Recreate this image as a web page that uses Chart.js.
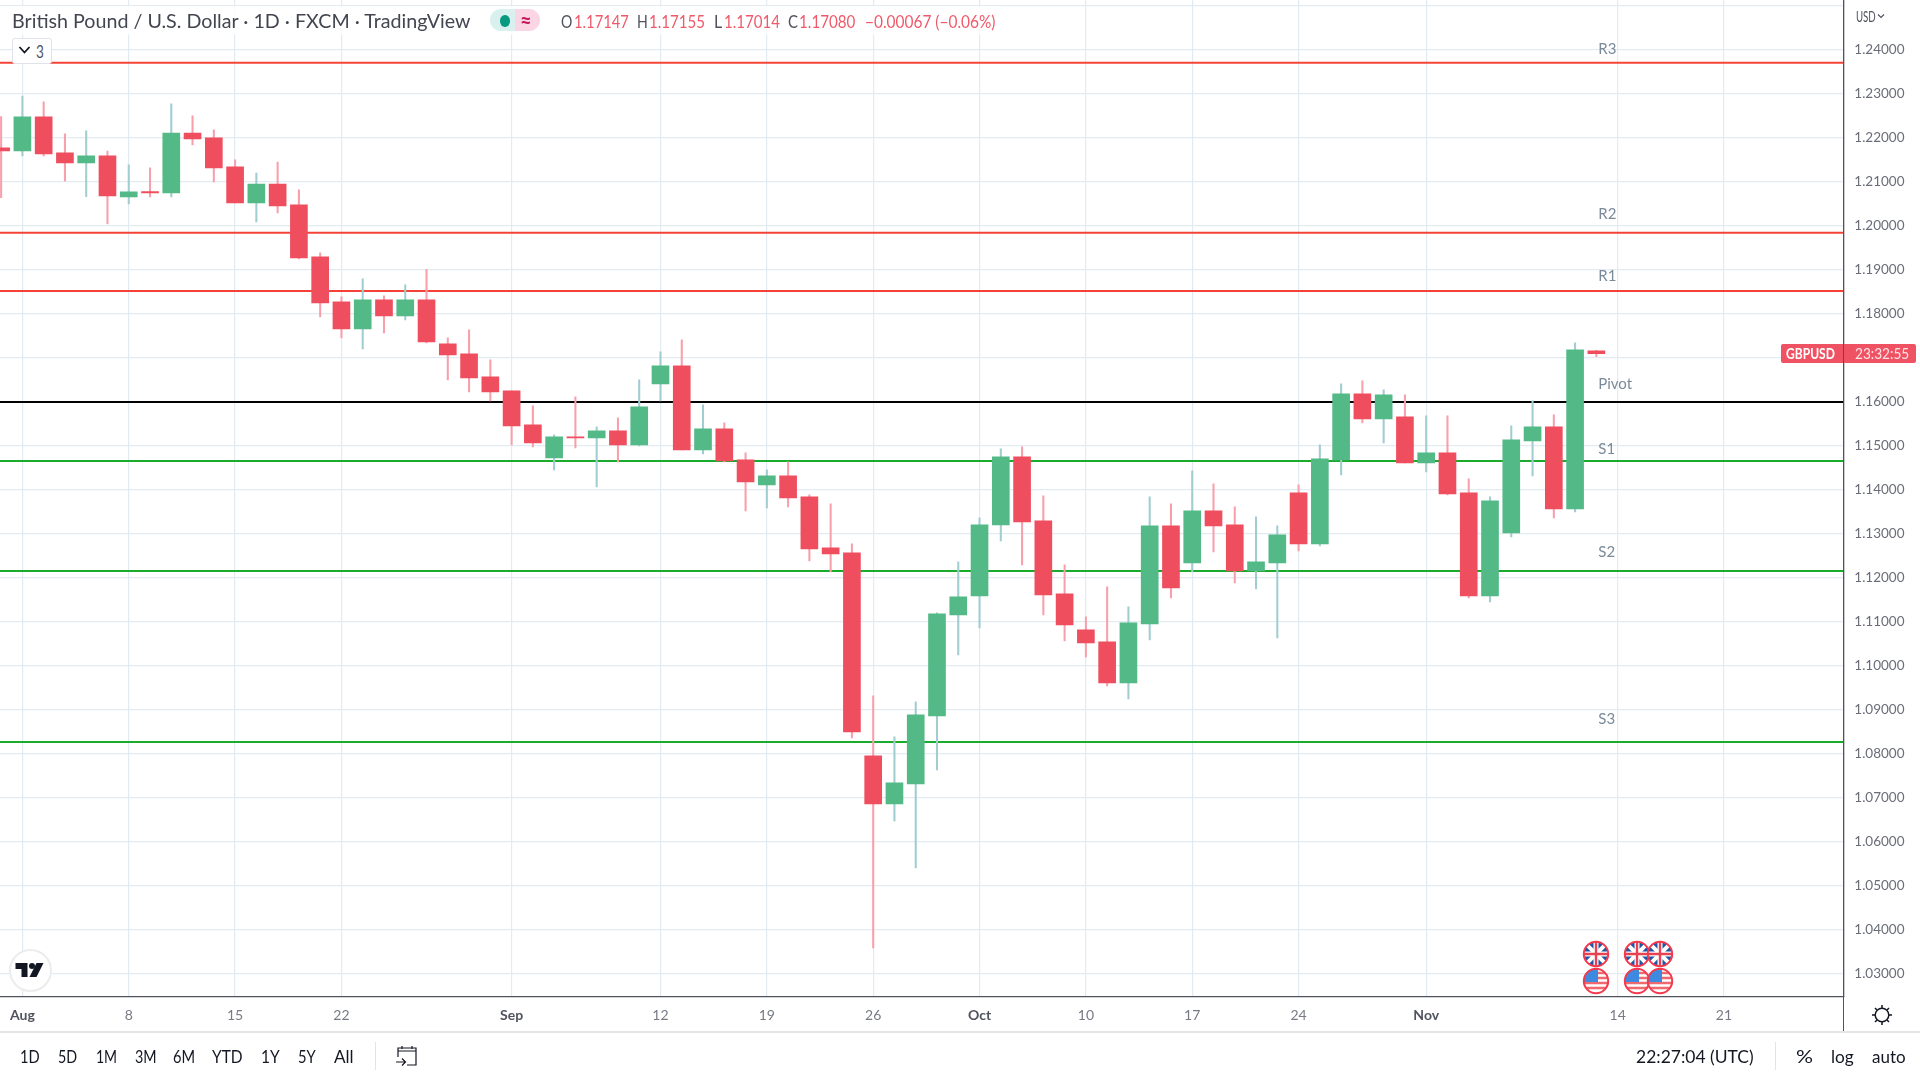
<!DOCTYPE html>
<html>
<head>
<meta charset="utf-8">
<title>GBPUSD</title>
<script src="https://cdn.jsdelivr.net/npm/chart.js@4"></script>
<style>
  html, body { margin: 0; background: #fff; width: 1920px; height: 1080px; overflow: hidden; }
  body { position: relative; font-family: Lato, sans-serif; }
  canvas { position: absolute; left: 0; top: 0; }
  .box, .txt, svg { position: absolute; }
  .txt { white-space: nowrap; transform-origin: left center; line-height: 1; }
</style>
</head>
<body>
<canvas id="chart" width="1920" height="1080"></canvas>
<div id="chrome"></div>
<script>
// Trading days, oldest first (the array index is the bar position on the x axis)
const days = [
  "Jul 29", "Aug 1", "Aug 2", "Aug 3", "Aug 4", "Aug 5", "Aug 8", "Aug 9", "Aug 10", "Aug 11", "Aug 12",
  "Aug 15", "Aug 16", "Aug 17", "Aug 18", "Aug 19", "Aug 22", "Aug 23", "Aug 24", "Aug 25", "Aug 26",
  "Aug 29", "Aug 30", "Aug 31", "Sep 1", "Sep 2", "Sep 5", "Sep 6", "Sep 7", "Sep 8", "Sep 9",
  "Sep 12", "Sep 13", "Sep 14", "Sep 15", "Sep 16", "Sep 19", "Sep 20", "Sep 21", "Sep 22", "Sep 23",
  "Sep 26", "Sep 27", "Sep 28", "Sep 29", "Sep 30", "Oct 3", "Oct 4", "Oct 5", "Oct 6", "Oct 7",
  "Oct 10", "Oct 11", "Oct 12", "Oct 13", "Oct 14", "Oct 17", "Oct 18", "Oct 19", "Oct 20", "Oct 21",
  "Oct 24", "Oct 25", "Oct 26", "Oct 27", "Oct 28", "Oct 31", "Nov 1", "Nov 2", "Nov 3", "Nov 4",
  "Nov 7", "Nov 8", "Nov 9", "Nov 10", "Nov 11",
];

const opens = [
  1.21758, 1.21689, 1.22462, 1.21644, 1.21417, 1.21576, 1.20644, 1.20765, 1.20735, 1.22098, 1.21985,
  1.21326, 1.20508, 1.20939, 1.20462, 1.1928, 1.18258, 1.17644, 1.18303, 1.17939, 1.18303,
  1.17303, 1.17076, 1.16553, 1.16235, 1.15462, 1.14712, 1.15189, 1.15167, 1.15326, 1.15008,
  1.16394, 1.16803, 1.14894, 1.15371, 1.14667, 1.14098, 1.14303, 1.13826, 1.12667, 1.12553,
  1.07939, 1.06848, 1.07303, 1.08848, 1.11144, 1.11576, 1.13189, 1.14735, 1.1328, 1.11621,
  1.10803, 1.1053, 1.09598, 1.10939, 1.13167, 1.12326, 1.13508, 1.13189, 1.12144, 1.12326,
  1.13917, 1.12758, 1.14667, 1.16167, 1.15598, 1.15644, 1.14598, 1.14826, 1.13917, 1.11576,
  1.13008, 1.15098, 1.15417, 1.13553, 1.17147,
];
const highs = [
  1.2247, 1.22939, 1.22803, 1.22076, 1.22144, 1.21689, 1.21371, 1.21303, 1.22758, 1.22485, 1.22167,
  1.21485, 1.21189, 1.21439, 1.20803, 1.19371, 1.18371, 1.1878, 1.18394, 1.18644, 1.19,
  1.17439, 1.17621, 1.16939, 1.16235, 1.15894, 1.15235, 1.16098, 1.15417, 1.15621, 1.16485,
  1.17121, 1.17394, 1.15917, 1.15508, 1.14826, 1.14439, 1.14621, 1.13871, 1.13667, 1.12758,
  1.09303, 1.08371, 1.09167, 1.1119, 1.12348, 1.13348, 1.14917, 1.14962, 1.13848, 1.1228,
  1.11098, 1.1178, 1.11326, 1.13826, 1.13667, 1.14417, 1.14121, 1.13598, 1.13371, 1.13167,
  1.14098, 1.15008, 1.16394, 1.16462, 1.16258, 1.16144, 1.15667, 1.15667, 1.14235, 1.13826,
  1.15439, 1.16008, 1.15689, 1.17326, 1.17155,
];
const lows = [
  1.2063, 1.21576, 1.21576, 1.21008, 1.20652, 1.2003, 1.20485, 1.20644, 1.20644, 1.21826, 1.20985,
  1.20508, 1.20076, 1.2028, 1.19235, 1.17917, 1.17439, 1.17189, 1.17553, 1.17848, 1.17326,
  1.16485, 1.16212, 1.16008, 1.15008, 1.14962, 1.14439, 1.14939, 1.14053, 1.14621, 1.14985,
  1.16008, 1.14894, 1.14803, 1.14621, 1.13508, 1.13576, 1.13598, 1.12371, 1.12121, 1.08348,
  1.03576, 1.06462, 1.05394, 1.07621, 1.10235, 1.10848, 1.12826, 1.1228, 1.11144, 1.10553,
  1.10189, 1.0953, 1.09235, 1.10576, 1.1153, 1.12121, 1.12576, 1.11871, 1.11735, 1.10621,
  1.12598, 1.12712, 1.14326, 1.15508, 1.15053, 1.14598, 1.14394, 1.13871, 1.1153, 1.11439,
  1.12917, 1.14303, 1.13348, 1.13485, 1.17014,
];
const closes = [
  1.21689, 1.22462, 1.21621, 1.21417, 1.21576, 1.20667, 1.20758, 1.20735, 1.22098, 1.21962, 1.21303,
  1.20508, 1.20939, 1.20439, 1.19258, 1.18235, 1.17644, 1.18303, 1.17939, 1.18303, 1.17348,
  1.17053, 1.1653, 1.16212, 1.15439, 1.15053, 1.15189, 1.15167, 1.15326, 1.15008, 1.15871,
  1.16803, 1.14894, 1.15371, 1.14644, 1.14167, 1.14303, 1.13803, 1.12644, 1.1253, 1.08485,
  1.06848, 1.07326, 1.08871, 1.11167, 1.11553, 1.13189, 1.14735, 1.13258, 1.11598, 1.10917,
  1.10508, 1.09598, 1.10962, 1.13167, 1.11758, 1.13508, 1.13167, 1.12144, 1.12348, 1.12962,
  1.12758, 1.14689, 1.16167, 1.15598, 1.16144, 1.14598, 1.14826, 1.13894, 1.11576, 1.13735,
  1.15121, 1.15417, 1.13553, 1.17167, 1.1708,
];

// Pivot levels
const levelNames = ["R3", "R2", "R1", "Pivot", "S1", "S2", "S3"];
const levelPrices = [1.23695, 1.19832, 1.18507, 1.15985, 1.14644, 1.12144, 1.08258];
const levelColors = ["#f44336", "#f44336", "#f44336", "#000000", "#1aab2b", "#1aab2b", "#1aab2b"];
const levelLabelPrices = [1.24007, 1.20262, 1.18848, 1.16382, 1.14905, 1.12571, 1.08764];
const levelLabelBar = 75.09;

// Axis ticks
const priceTicks = [
  1.25, 1.24, 1.23, 1.22, 1.21, 1.2, 1.19, 1.18, 1.17, 1.16, 1.15, 1.14,
  1.13, 1.12, 1.11, 1.1, 1.09, 1.08, 1.07, 1.06, 1.05, 1.04, 1.03,
];
const tickBars = [1, 6, 11, 16, 24, 31, 36, 41, 46, 51, 56, 61, 67, 76, 81];
const tickLabels = ["Aug", "8", "15", "22", "Sep", "12", "19", "26", "Oct", "10", "17", "24", "Nov", "14", "21"];

// Visible range of the chart
const xMin = -0.053;
const xMax = 86.61;
const yMin = 1.0246;
const yMax = 1.2512;

const UP = "#53b987";
const DOWN = "#ee4e5e";
const UP_WICK = "#a0cdd0";
const DOWN_WICK = "#f7a0ac";
const GRID = "#e2ebf1";
const AXIS = "#50535e";

const isUp = days.map((d, i) => closes[i] >= opens[i]);

// Month names are darker and bolder than day numbers
const isMonthTick = (c) => c.index !== undefined && isNaN(tickLabels[c.index]);

// Writes R3, R2... beside their lines, positioned through the scales
const levelLabels = {
  id: "levelLabels",
  afterDatasetsDraw(chart) {
    const { ctx, scales } = chart;
    ctx.save();
    ctx.font = "15px Lato";
    ctx.fillStyle = "#7b8a99";
    ctx.textBaseline = "middle";
    levelNames.forEach((name, i) => {
      ctx.fillText(name, scales.x.getPixelForValue(levelLabelBar), scales.y.getPixelForValue(levelLabelPrices[i]));
    });
    ctx.restore();
  },
};

new Chart(document.getElementById("chart"), {
  type: "bar",
  data: {
    datasets: [
      {
        label: "Bodies",
        order: 0,
        grouped: false,
        barThickness: 17,
        backgroundColor: isUp.map((up) => (up ? UP : DOWN)),
        data: days.map((d, i) => ({ x: i, y: [opens[i], closes[i]] })),
      },
      {
        label: "Wicks",
        order: 1,
        grouped: false,
        barThickness: 1.4,
        backgroundColor: isUp.map((up) => (up ? UP_WICK : DOWN_WICK)),
        data: days.map((d, i) => ({ x: i, y: [lows[i], highs[i]] })),
      },
      ...levelNames.map((name, i) => ({
        type: "line",
        label: name,
        order: 2,
        borderColor: levelColors[i],
        borderWidth: 2,
        pointRadius: 0,
        data: [{ x: xMin, y: levelPrices[i] }, { x: xMax, y: levelPrices[i] }],
      })),
    ],
  },
  options: {
    responsive: false,
    animation: false,
    events: [],
    layout: { padding: 0 },
    plugins: { legend: { display: false }, tooltip: { enabled: false } },
    scales: {
      x: {
        type: "linear",
        offset: false,
        min: xMin,
        max: xMax,
        afterBuildTicks: (scale) => { scale.ticks = tickBars.map((v) => ({ value: v })); },
        afterFit: (scale) => {
          scale.height = 83;
          scale.paddingLeft = 0;
          scale.paddingRight = 0;
        },
        border: { color: AXIS, width: 1.3 },
        grid: { color: GRID, lineWidth: 1.2, drawTicks: false, offset: false },
        ticks: {
          autoSkip: false,
          maxRotation: 0,
          padding: 10,
          callback: (value) => tickLabels[tickBars.indexOf(value)],
          color: (c) => (isMonthTick(c) ? "#50535e" : "#787b86"),
          font: (c) => ({ family: "Lato", size: 14, weight: isMonthTick(c) ? "bold" : "normal" }),
        },
      },
      y: {
        position: "right",
        min: yMin,
        max: yMax,
        afterBuildTicks: (scale) => { scale.ticks = priceTicks.map((v) => ({ value: v })); },
        afterFit: (scale) => {
          scale.width = 76.7;
          scale.paddingTop = 0;
          scale.paddingBottom = 0;
        },
        border: { color: AXIS, width: 1.3 },
        grid: { color: GRID, lineWidth: 1.2, drawTicks: false },
        ticks: {
          padding: 11,
          color: "#6a6d78",
          font: { family: "Lato", size: 13.5 },
          callback: (value) => (value === 1.25 ? "" : value.toFixed(5)),
        },
      },
    },
  },
  plugins: [levelLabels],
});

// --- TradingView chrome around the chart ---
const chrome = document.getElementById("chrome");

function addBox(x, y, w, h, css) {
  const el = document.createElement("div");
  el.className = "box";
  el.style.cssText = `left:${x}px;top:${y}px;width:${w}px;height:${h}px;${css}`;
  chrome.appendChild(el);
}

// Text is squeezed sideways to the width it has in the picture
function addText(text, x, cy, w, size, color, weight = "normal") {
  const el = document.createElement("span");
  el.className = "txt";
  el.textContent = text;
  el.style.cssText = `left:${x}px;top:${cy}px;font-size:${size}px;color:${color};font-weight:${weight}`;
  chrome.appendChild(el);
  el.style.transform = `translateY(-50%) scaleX(${w / el.offsetWidth})`;
}

function addSvg(x, y, w, h, inner) {
  chrome.insertAdjacentHTML(
    "beforeend",
    `<svg style="left:${x}px;top:${y}px" width="${w}" height="${h}" viewBox="0 0 ${w} ${h}">${inner}</svg>`,
  );
}

// Legend strip
addBox(0, 6, 1002, 29, "background:rgba(255,255,255,.8)");
addText("British Pound / U.S. Dollar · 1D · FXCM · TradingView", 12, 21, 459, 19.5, "#434651");
addBox(490, 9, 27, 22, "background:#d9f1ee;border-radius:11px 0 0 11px");
addBox(515, 9, 25, 22, "background:#fbd5e3;border-radius:0 11px 11px 0");
addBox(500, 15, 9.5, 11.5, "background:#089981;border-radius:50%");
addText("≈", 520, 20, 12, 20, "#c2185b", "bold");
const legendRed = "#ef5a6b";
addText("O", 561, 21, 11, 18, "#50535e");
addText("1.17147", 573.5, 21, 55, 18, legendRed);
addText("H", 637, 21, 11, 18, "#50535e");
addText("1.17155", 649, 21, 56, 18, legendRed);
addText("L", 714, 21, 8, 18, "#50535e");
addText("1.17014", 723.7, 21, 56, 18, legendRed);
addText("C", 788, 21, 10, 18, "#50535e");
addText("1.17080", 799, 21, 56.5, 18, legendRed);
addText("−0.00067 (−0.06%)", 864.5, 21, 130.5, 18, legendRed);

// Collapsed studies button
addBox(11.5, 38, 38, 24, "background:#fff;border:1px solid #e0e3eb;border-radius:3px");
addSvg(18, 45, 14, 10, '<path d="M1.5 2 L6.5 7.5 L11.5 2" fill="none" stroke="#131722" stroke-width="1.8"/>');
addText("3", 36, 50.5, 8, 17, "#50535e");

// Price axis header and last-price tag
addText("USD", 1855.5, 16, 20, 15, "#50535e");
addSvg(1877, 13, 10, 7, '<path d="M1 1.5 L4 4.5 L7 1.5" fill="none" stroke="#50535e" stroke-width="1.2"/>');
addBox(1781, 344, 61.5, 19, "background:#ef5263;border-radius:2px 0 0 2px");
addBox(1843.5, 344, 72, 19, "background:#ef5263;border-radius:0 2px 2px 0");
addText("GBPUSD", 1786, 353.5, 49, 15.5, "#fff", "bold");
addText("23:32:55", 1854.7, 353.5, 54.5, 15.5, "#fde3e6");

// Bottom toolbar
addBox(1843, 997, 1.3, 34, `background:${AXIS}`);
addBox(0, 1030.5, 1920, 2, "background:#e4e6ea");
addBox(375, 1042, 1, 28, "background:#e0e3eb");
addBox(1774.5, 1042, 1, 28, "background:#e0e3eb");
const rangeNames = ["1D", "5D", "1M", "3M", "6M", "YTD", "1Y", "5Y", "All"];
const rangeLeft = [20.4, 58, 96, 134.7, 173, 212, 261, 298, 334];
const rangeWidth = [19.6, 19, 21, 21.5, 22, 31, 19, 18, 20];
rangeNames.forEach((name, i) => addText(name, rangeLeft[i], 1056, rangeWidth[i], 18, "#131722"));
addText("22:27:04 (UTC)", 1636, 1056, 117.5, 18, "#131722");
addText("%", 1795.5, 1056, 16.5, 18, "#131722");
addText("log", 1830.6, 1056, 23, 18, "#131722");
addText("auto", 1872, 1056, 34, 18, "#131722");

addSvg(395, 1045, 24, 22,
  '<path d="M3 6 V3 H21 V20 H12 M3 6 H21 M3 6 V12 M7 1 V4 M17 1 V4 M1 17 H10 M7 13.5 L10.5 17 L7 20.5" fill="none" stroke="#131722" stroke-width="1.2"/>');
addSvg(1870, 1003, 24, 24,
  '<circle cx="12" cy="12" r="6.8" fill="none" stroke="#131722" stroke-width="1.5"/>' +
  '<path d="M12 2 V5 M12 19 V22 M2 12 H5 M19 12 H22 M5 5 L7 7 M17 17 L19 19 M5 19 L7 17 M17 7 L19 5" stroke="#131722" stroke-width="1.5"/>');

// TradingView logo
addBox(9, 948.5, 39, 39, "background:#fff;border:2px solid #ececec;border-radius:50%");
addSvg(15, 962, 29, 16,
  '<path d="M0.5 1 H12.5 V15 H6.5 V7 H0.5 Z" fill="#131722"/><circle cx="17" cy="4" r="3" fill="#131722"/>' +
  '<path d="M21.5 1 H28.5 L21.5 15 H14.5 Z" fill="#131722"/>');

// Economic event flags
function ukFlag(x, y) {
  addSvg(x - 14, y - 14, 28, 28,
    '<clipPath id="f"><ellipse cx="14" cy="14" rx="12" ry="12"/></clipPath>' +
    '<g clip-path="url(#f)"><rect width="28" height="28" fill="#1f57a8"/>' +
    '<path d="M2 2 L26 26 M26 2 L2 26" stroke="#fff" stroke-width="4"/>' +
    '<path d="M14 0 V28 M0 14 H28" stroke="#fff" stroke-width="5"/>' +
    '<path d="M14 0 V28 M0 14 H28" stroke="#e8414f" stroke-width="2.4"/></g>' +
    '<ellipse cx="14" cy="14" rx="12.2" ry="12.2" fill="none" stroke="#f4394e" stroke-width="2"/>');
}

function usFlag(x, y) {
  addSvg(x - 14, y - 14, 28, 28,
    '<clipPath id="g"><ellipse cx="14" cy="14" rx="12" ry="12"/></clipPath>' +
    '<g clip-path="url(#g)"><rect width="28" height="28" fill="#fff"/>' +
    '<path d="M0 6 H28 M0 11 H28 M0 16 H28 M0 21 H28" stroke="#ef6a6f" stroke-width="2.4"/>' +
    '<rect x="0" y="0" width="16" height="15" fill="#3d8ae0"/></g>' +
    '<ellipse cx="14" cy="14" rx="12.2" ry="12.2" fill="none" stroke="#f4394e" stroke-width="2"/>');
}

[1595.5, 1637, 1660].forEach((x) => { ukFlag(x, 953.5); usFlag(x, 981); });
</script>
</body>
</html>
